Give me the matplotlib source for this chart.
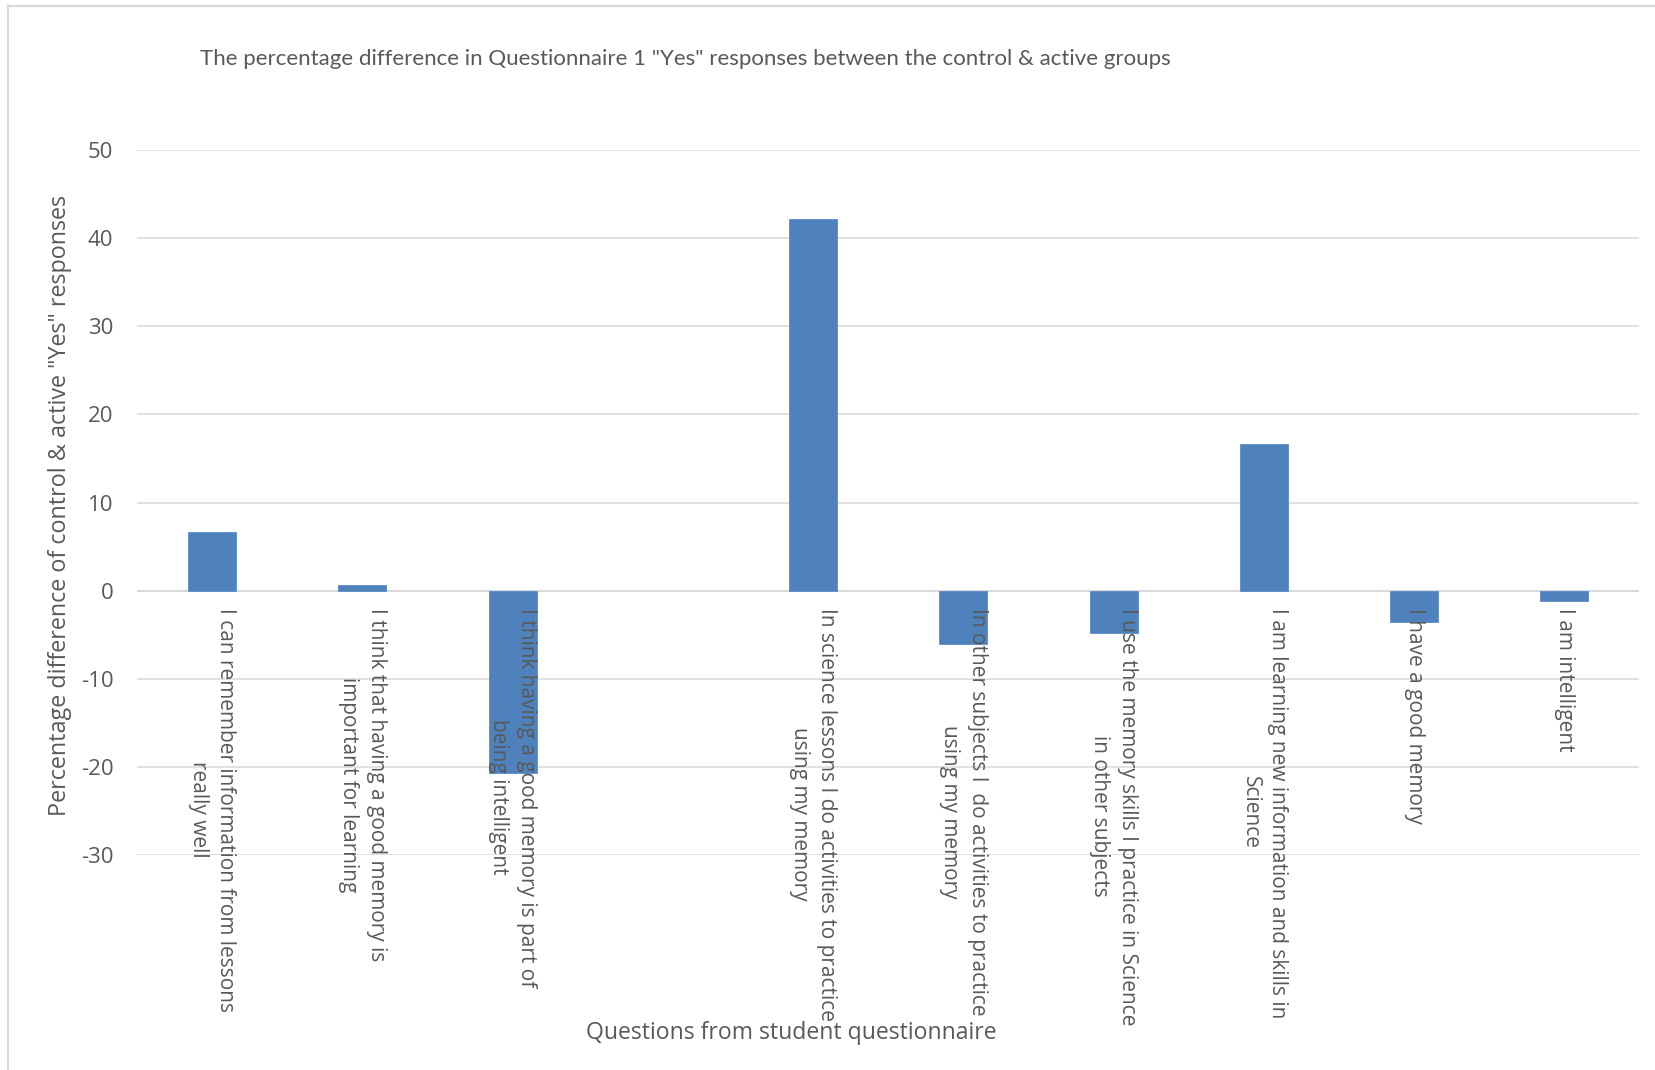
import matplotlib
matplotlib.use("Agg")
import matplotlib.pyplot as plt
from matplotlib.lines import Line2D

# Questionnaire items (one empty slot in the category axis)
questions = [
    "I can remember information from lessons\nreally well",
    "I think that having a good memory is\nimportant for learning",
    "I think having a good memory is part of\nbeing intelligent",
    "",
    "In science lessons I do activities to practice\nusing my memory",
    "In other subjects I  do activities to practice\nusing my memory",
    "I use the memory skills I practice in Science\nin other subjects",
    "I am learning new information and skills in\nScience",
    "I have a good memory",
    "I am intelligent",
]
# Percentage difference of "Yes" responses (control vs active)
differences = [6.7, 0.7, -20.6, None, 42.1, -6.0, -4.8, 16.6, -3.5, -1.1]
y_ticks = [-30, -20, -10, 0, 10, 20, 30, 40, 50]

TEXT = "#595959"
GRID = "#d9d9d9"
BAR = "#4f81bd"

plt.rcParams["font.family"] = ["Open Sans", "DejaVu Sans"]

fig = plt.figure(figsize=(16.56, 10.70), dpi=100)
ax = fig.add_axes([0.0827, 0.2005, 0.9073, 0.6595])

xs = list(range(len(questions)))
bx = [x for x, v in zip(xs, differences) if v is not None]
bv = [v for v in differences if v is not None]
ax.bar(bx, bv, width=0.32, color=BAR, edgecolor="#5b8cc6", linewidth=0.6, zorder=3)

ax.set_xlim(-0.5, len(questions) - 0.5)
ax.set_ylim(-30, 50)
ax.set_yticks(y_ticks)
ax.set_yticklabels([str(t) for t in y_ticks])
ax.yaxis.grid(True, color=GRID, linewidth=1.1, zorder=0)
ax.set_axisbelow(True)

for side in ("top", "right", "left", "bottom"):
    ax.spines[side].set_visible(False)
ax.axhline(0, color=GRID, linewidth=1.4, zorder=1)

ax.set_xticks([])
ax.tick_params(axis="y", length=0, pad=17, labelsize=16, labelcolor=TEXT)

# Category labels hang from the zero line, drawn over the bars
for x, q in zip(xs, questions):
    if q:
        ax.annotate(q, xy=(x, 0), xytext=(0, -12), textcoords="offset points",
                    rotation=270, ha="center", va="top", multialignment="center",
                    fontsize=15, color=TEXT, linespacing=1.4, zorder=5)

# Titles
fig.text(200 / 1656, 1 - 59 / 1070, 'The percentage difference in Questionnaire 1 "Yes" responses between the control & active groups',
         ha="left", va="center", fontsize=16, color=TEXT, family=["Lato", "DejaVu Sans"])
fig.text(60 / 1656, 1 - 505 / 1070, 'Percentage difference of control & active "Yes" responses',
         ha="center", va="center", rotation=90, fontsize=16.8, color=TEXT)
fig.text(791 / 1656, 1 - 1033 / 1070, "Questions from student questionnaire",
         ha="center", va="center", fontsize=16.6, color=TEXT)

# Chart frame (top and left edges)
fig.add_artist(Line2D([8 / 1656, 8 / 1656], [0, 1 - 6 / 1070], transform=fig.transFigure,
                      color=GRID, linewidth=1.6))
fig.add_artist(Line2D([8 / 1656, 1], [1 - 6 / 1070, 1 - 6 / 1070], transform=fig.transFigure,
                      color=GRID, linewidth=1.6))

fig.savefig("out.png", dpi=100, facecolor="white")
